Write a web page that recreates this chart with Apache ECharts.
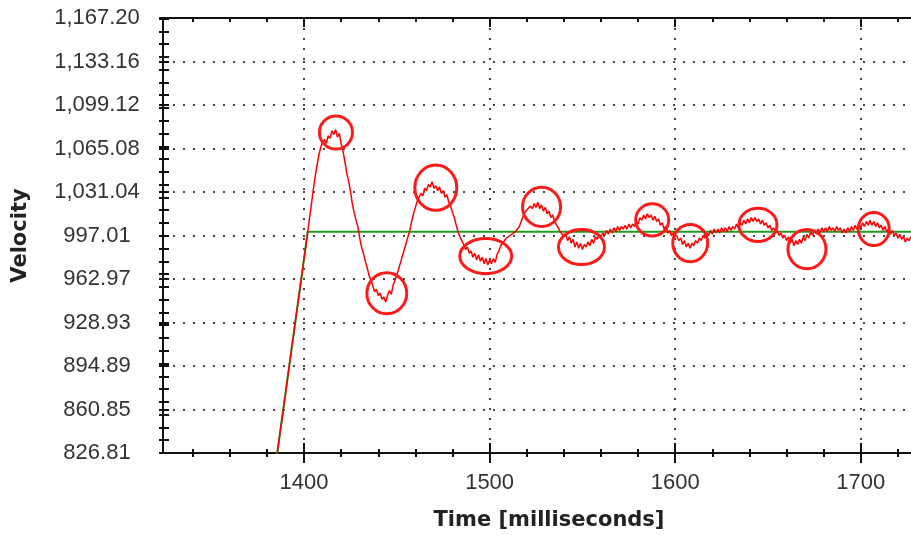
<!DOCTYPE html>
<html>
<head>
<meta charset="utf-8">
<title>Velocity</title>
<script src="https://cdn.jsdelivr.net/npm/echarts@6/dist/echarts.min.js"></script>
<style>
    html, body { margin: 0; padding: 0; background: #fff; }
    #chart { width: 911px; height: 535px; }
</style>
</head>
<body>
<div id="chart"></div>
<script>
var timeMin = 1324;
var timeMax = 1740;
var velocityMin = 826.81;
var velocityMax = 1167.20;

var timeTicks = [1400, 1500, 1600, 1700];
var timeMinorTicks = [1340, 1360, 1380, 1420, 1440, 1460, 1480, 1520, 1540, 1560, 1580,
    1620, 1640, 1660, 1680, 1720];
var velocityTickLabels = ['826.81', '860.85', '894.89', '928.93', '962.97', '997.01',
    '1,031.04', '1,065.08', '1,099.12', '1,133.16', '1,167.20'];

// set point (green)
var setpointTime = [1380, 1402, 1740];
var setpointVelocity = [768, 1000, 1000];

// measured velocity (red), one sample per ms starting at responseStart
var responseStart = 1384;
var responseVelocity = [
    810, 821, 831, 842, 852, 863, 873, 884, 895, 905, 916, 926, 937, 947, 958, 968,
    979, 989, 1000, 1011, 1022, 1033, 1043, 1052, 1060, 1066,
    1070, 1072, 1069, 1075, 1073, 1079, 1076, 1080, 1074, 1077,
    1069, 1063, 1055, 1046, 1040, 1032, 1022, 1015, 1009, 1004,
    995, 988, 983, 977, 972, 966, 962, 958, 953, 955,
    950, 952, 947, 949, 945, 950, 954, 951, 958, 962,
    966, 971, 976, 981, 986, 991, 996, 1001, 1008, 1014,
    1019, 1024, 1027, 1030, 1028, 1034, 1032, 1037, 1035, 1039,
    1034, 1036, 1032, 1035, 1030, 1032, 1027, 1029, 1023, 1020,
    1015, 1011, 1005, 1000, 996, 993, 990, 986, 988, 983,
    985, 980, 983, 978, 982, 977, 980, 975, 979, 974,
    978, 975, 979, 976, 982, 985, 989, 991, 993, 995,
    994, 997, 996, 999, 998, 1002, 1004, 1008, 1012, 1015,
    1017, 1016, 1020, 1018, 1022, 1019, 1023, 1018, 1021, 1016,
    1019, 1014, 1016, 1011, 1013, 1008, 1007, 1003, 1000, 999,
    996, 998, 993, 996, 991, 994, 988, 992, 987, 991,
    986, 990, 988, 992, 989, 994, 991, 996, 994, 998,
    996, 999, 997, 1001, 998, 1002, 999, 1003, 1000, 1004,
    1001, 1004, 1002, 1005, 1002, 1006, 1003, 1006, 1004, 1008,
    1006, 1011, 1009, 1013, 1010, 1014, 1011, 1013, 1009, 1012,
    1008, 1010, 1005, 1007, 1002, 1004, 999, 1001, 997, 999,
    998, 996, 993, 995, 990, 993, 988, 991, 987, 991,
    989, 993, 991, 995, 993, 997, 995, 999, 997, 1001,
    998, 1002, 999, 1002, 999, 1003, 1000, 1003, 1000, 1004,
    1001, 1004, 1002, 1006, 1003, 1007, 1005, 1009, 1006, 1010,
    1007, 1011, 1008, 1011, 1008, 1010, 1006, 1009, 1005, 1007,
    1003, 1005, 1001, 1003, 999, 1001, 997, 999, 995, 997,
    993, 996, 991, 994, 989, 993, 990, 994, 991, 996,
    993, 998, 995, 1000, 997, 1001, 998, 1002, 999, 1003,
    1000, 1003, 1000, 1004, 1001, 1003, 1000, 1004, 1001, 1003,
    999, 1002, 999, 1003, 1000, 1004, 1001, 1005, 1002, 1006,
    1003, 1007, 1004, 1008, 1005, 1009, 1005, 1008, 1004, 1007,
    1003, 1005, 1001, 1004, 1000, 1002, 998, 1001, 997, 999,
    995, 998, 994, 996, 992, 995, 993, 996, 992, 995,
    991, 994, 990, 993, 990, 994, 991, 995, 992, 996, 994
];

// circled peaks / troughs: centre and extent in data units
var markTime = [1417.2, 1444.6, 1471.0, 1497.9, 1528.0, 1549.5, 1587.6, 1608.1, 1644.6, 1671.0, 1707.0];
var markVelocity = [1077.6, 951.8, 1034.4, 980.9, 1019.4, 988.0, 1009.2, 991.1, 1005.3, 986.4, 1002.1];
var markSpanTime = [17.8, 21.5, 22.6, 28.0, 20.5, 24.8, 17.8, 18.8, 20.5, 20.5, 16.7];
var markSpanVelocity = [25.9, 32.2, 35.4, 27.5, 30.7, 27.5, 25.2, 29.1, 25.9, 30.7, 25.9];

var setpointData = [];
for (var i = 0; i < setpointTime.length; i++) {
    setpointData.push([setpointTime[i], setpointVelocity[i]]);
}
var responseData = [];
for (var j = 0; j < responseVelocity.length; j++) {
    responseData.push([responseStart + j, responseVelocity[j]]);
}
var markData = [];
for (var k = 0; k < markTime.length; k++) {
    markData.push([markTime[k], markVelocity[k], markSpanTime[k], markSpanVelocity[k]]);
}

var axisColor = '#111';
var dotLine = {show: true, lineStyle: {color: '#444', width: 2, type: [2, 8]}};

// extra axes that only draw tick marks
function tickX(position, offset, values, length, inside, showLine) {
    return {
        type: 'value', min: timeMin, max: timeMax, position: position, offset: offset,
        axisLine: {show: !!showLine, onZero: false, lineStyle: {color: axisColor, width: 2}},
        axisTick: {show: true, inside: inside, length: length, customValues: values,
            lineStyle: {color: axisColor, width: 2}},
        axisLabel: {show: false},
        splitLine: {show: false}
    };
}
function tickY(offset, interval, length) {
    return {
        type: 'value', min: velocityMin, max: velocityMax, interval: interval,
        position: 'left', offset: offset,
        axisLine: {show: false, onZero: false},
        axisTick: {show: true, length: length, lineStyle: {color: axisColor, width: 2}},
        axisLabel: {show: false},
        splitLine: {show: false}
    };
}

var chart = echarts.init(document.getElementById('chart'));
var option = {
    backgroundColor: '#fff',
    animation: false,
    grid: {left: 163, right: -24, top: 18, bottom: 82, outerBoundsMode: 'none'},
    xAxis: [
        {
            type: 'value', min: timeMin, max: timeMax, position: 'bottom',
            name: 'Time [milliseconds]', nameLocation: 'middle', nameGap: 57,
            nameTextStyle: {fontFamily: 'DejaVu Sans', fontWeight: 'bold', fontSize: 21, color: '#222'},
            axisLine: {show: true, onZero: false, lineStyle: {color: axisColor, width: 2}},
            axisTick: {show: false, customValues: timeTicks},
            axisLabel: {
                customValues: timeTicks, margin: 19, fontFamily: 'Liberation Sans',
                fontSize: 22, color: '#333',
                formatter: function (v) {
                    return String(v);
                }
            },
            splitLine: dotLine
        },
        tickX('bottom', -10, timeTicks, 20, false),
        tickX('bottom', -4, timeMinorTicks, 8, false),
        tickX('top', 0, timeTicks, 9, true, true),
        tickX('top', 0, timeMinorTicks, 4, true)
    ],
    yAxis: [
        {
            type: 'value', min: velocityMin, max: velocityMax,
            interval: (velocityMax - velocityMin) / 10, position: 'left',
            name: 'Velocity', nameLocation: 'middle', nameGap: 132,
            nameTextStyle: {fontFamily: 'DejaVu Sans', fontWeight: 'bold', fontSize: 21, color: '#222'},
            axisLine: {show: true, onZero: false, lineStyle: {color: axisColor, width: 2}},
            axisTick: {show: false},
            axisLabel: {
                align: 'center', margin: 66, fontFamily: 'Liberation Sans', fontSize: 22, color: '#333',
                formatter: function (v, idx) {
                    return velocityTickLabels[idx];
                }
            },
            splitLine: dotLine
        },
        tickY(-6, 10, 10),
        tickY(-6, (velocityMax - velocityMin) / 10, 10)
    ],
    series: [
        {
            name: 'Set point', type: 'line', xAxisIndex: 0, yAxisIndex: 0,
            showSymbol: false, z: 2,
            lineStyle: {color: '#1f9a1f', width: 2},
            data: setpointData
        },
        {
            name: 'Velocity', type: 'line', xAxisIndex: 0, yAxisIndex: 0,
            showSymbol: false, z: 3,
            lineStyle: {color: '#ff0000', width: 1.5},
            data: responseData
        },
        {
            name: 'Marks', type: 'custom', xAxisIndex: 0, yAxisIndex: 0, z: 4,
            renderItem: function (params, api) {
                var c = api.coord([api.value(0), api.value(1)]);
                var s = api.size([api.value(2), api.value(3)]);
                return {
                    type: 'ellipse',
                    shape: {cx: c[0], cy: c[1], rx: s[0] / 2, ry: s[1] / 2},
                    style: {fill: 'none', stroke: '#ff1a1a', lineWidth: 3}
                };
            },
            data: markData
        }
    ]
};
chart.setOption(option);
</script>
</body>
</html>
